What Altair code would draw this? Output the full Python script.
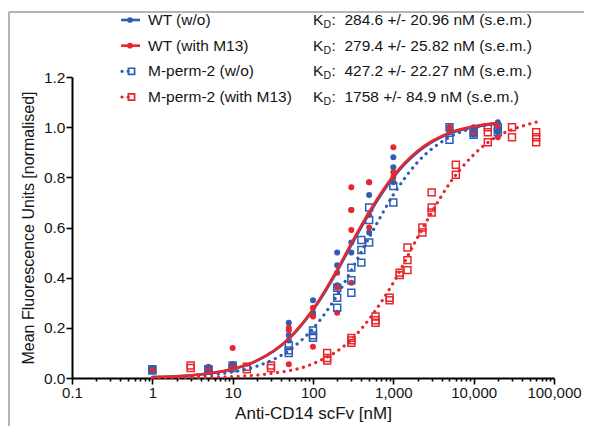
import altair as alt
import pandas as pd

# ---------------- data ----------------
series_names = ["WT (w/o)", "WT (with M13)", "M-perm-2 (w/o)", "M-perm-2 (with M13)"]
kd_texts = [":\u00a0\u00a0284.6 +/- 20.96 nM (s.e.m.)", ":\u00a0\u00a0279.4 +/- 25.82 nM (s.e.m.)",
            ":\u00a0\u00a0427.2 +/- 22.27 nM (s.e.m.)", ":\u00a0\u00a01758 +/- 84.9 nM (s.e.m.)"]
series_colors = ["#2f5cb4", "#e8262b", "#2f5cb4", "#e8262b"]

wt_conc = [1, 1, 1, 5, 5, 10, 10, 10, 50, 50, 50, 100, 100, 100, 200, 200, 200,
           300, 300, 300, 500, 500, 500, 1000, 1000, 1000, 5000, 5000, 5000,
           10000, 10000, 10000, 20000, 20000, 20000]
wt_val = [0.03, 0.035, 0.04, 0.03, 0.04, 0.04, 0.05, 0.055, 0.22, 0.17, 0.15,
          0.31, 0.25, 0.26, 0.50, 0.45, 0.37, 0.67, 0.54, 0.50, 0.78, 0.73, 0.58,
          0.88, 0.84, 0.78, 1.00, 0.99, 0.98, 1.00, 0.98, 0.97, 1.02, 1.00, 0.98]

m13_conc = [1, 1, 5, 5, 10, 10, 10, 50, 50, 50, 100, 100, 100, 200, 200, 200,
            300, 300, 300, 300, 500, 500, 500, 1000, 1000, 1000, 5000, 5000,
            10000, 10000, 20000, 20000]
m13_val = [0.03, 0.035, 0.045, 0.04, 0.12, 0.05, 0.045, 0.20, 0.19, 0.055,
           0.28, 0.245, 0.125, 0.42, 0.36, 0.26, 0.76, 0.67, 0.59, 0.38,
           0.78, 0.65, 0.60, 0.92, 0.82, 0.80, 1.00, 0.99, 0.99, 0.98, 1.00, 0.96]

mp_conc = [1, 1, 5, 5, 10, 10, 50, 50, 50, 100, 100, 100, 200, 200, 200,
           300, 300, 300, 400, 400, 400, 500, 500, 500, 1000, 1000, 5000, 5000,
           10000, 10000, 20000, 20000]
mp_val = [0.03, 0.035, 0.03, 0.035, 0.04, 0.05, 0.13, 0.11, 0.10, 0.19, 0.17, 0.16,
          0.36, 0.32, 0.28, 0.44, 0.39, 0.34, 0.55, 0.51, 0.46, 0.68, 0.63, 0.54,
          0.765, 0.70, 0.95, 1.00, 0.97, 0.98, 1.00, 0.98]

mpm_conc = [3, 3, 15, 15, 30, 30, 150, 150, 150, 300, 300, 300, 600, 600, 600,
            900, 900, 1200, 1200, 1500, 1500, 1500, 2300, 2300, 3000, 3000, 3000,
            6000, 6000, 15000, 15000, 15000, 30000, 30000, 60000, 60000, 60000]
mpm_val = [0.04, 0.05, 0.045, 0.035, 0.05, 0.04, 0.10, 0.08, 0.07, 0.16, 0.14, 0.15,
           0.245, 0.23, 0.22, 0.31, 0.32, 0.41, 0.42, 0.52, 0.47, 0.43, 0.60, 0.58,
           0.74, 0.68, 0.66, 0.85, 0.81, 1.00, 0.98, 0.94, 1.00, 0.96, 0.98, 0.96, 0.94]

# fitted curves
curve_x = [1, 2, 5, 10, 20, 50, 100, 200, 300, 500, 1000, 2000, 5000, 10000, 20000]
wt_curve = [0.004, 0.007, 0.018, 0.035, 0.068, 0.155, 0.27, 0.425, 0.53, 0.655,
            0.80, 0.90, 0.975, 1.0, 1.015]
m13_curve = [0.004, 0.007, 0.018, 0.036, 0.070, 0.158, 0.274, 0.432, 0.537, 0.662,
             0.806, 0.905, 0.978, 1.003, 1.017]
mp_curve = [0.002, 0.005, 0.012, 0.024, 0.047, 0.11, 0.197, 0.33, 0.43, 0.56,
            0.73, 0.86, 0.96, 0.997, 1.018]
mpm_curve_x = [1, 3, 10, 30, 100, 300, 1000, 2000, 3000, 5000, 10000, 20000, 30000, 60000]
mpm_curve = [0.001, 0.002, 0.006, 0.018, 0.057, 0.153, 0.38, 0.56, 0.66, 0.775,
             0.89, 0.965, 0.99, 1.02]

x_tick_values = [round(m * 10.0 ** e, 6) for e in range(-1, 5) for m in range(1, 10)] + [100000]
y_tick_values = [0.0, 0.2, 0.4, 0.6, 0.8, 1.0, 1.2]

# ---------------- tables ----------------
def pts(name, xs, ys):
    return pd.DataFrame({"series": name, "conc": xs, "value": ys})

points_df = pd.concat([
    pts(series_names[0], wt_conc, wt_val),
    pts(series_names[1], m13_conc, m13_val),
    pts(series_names[2], mp_conc, mp_val),
    pts(series_names[3], mpm_conc, mpm_val),
], ignore_index=True)

curves_df = pd.concat([
    pts(series_names[0], curve_x, wt_curve),
    pts(series_names[1], curve_x, m13_curve),
    pts(series_names[2], curve_x, mp_curve),
    pts(series_names[3], mpm_curve_x, mpm_curve),
], ignore_index=True)

legend_df = pd.DataFrame({
    "row": [0, 1, 2, 3],
    "label": series_names,
    "kd": kd_texts,
    "color": series_colors,
    "dotted": [False, False, True, True],
})

FONT = "Liberation Sans"
TXT = "#151515"
color_scale = alt.Scale(domain=series_names, range=series_colors)

decade = "abs(log(datum.value)/LN10 - round(log(datum.value)/LN10)) < 0.001"

x_enc = alt.X("conc:Q",
              scale=alt.Scale(type="log", domain=[0.1, 100000]),
              axis=alt.Axis(values=x_tick_values,
                            labelExpr=f"{decade} ? format(datum.value, ',') : ''",
                            tickSize={"condition": {"test": decade, "value": 6}, "value": 3},
                            tickWidth=1.6, tickColor="black",
                            domainWidth=2, domainColor="black",
                            labelFontSize=15, labelFont=FONT, labelColor=TXT,
                            labelPadding=1, labelFlush=False, labelOverlap=False,
                            grid=False,
                            title="Anti-CD14 scFv [nM]", titleFont=FONT,
                            titleFontSize=17, titleFontWeight="normal",
                            titleColor=TXT, titlePadding=5))
y_enc = alt.Y("value:Q",
              scale=alt.Scale(domain=[0, 1.2], nice=False),
              axis=alt.Axis(values=y_tick_values, format=".1f",
                            tickSize=6, tickWidth=1.6, tickColor="black",
                            domainWidth=2, domainColor="black",
                            labelFontSize=15.5, labelFont=FONT, labelColor=TXT,
                            labelPadding=1, grid=False,
                            title="Mean Fluorescence Units [normalised]",
                            titleFont=FONT, titleFontSize=16,
                            titleFontWeight="normal", titleColor=TXT,
                            titlePadding=7))
c_enc = alt.Color("series:N", scale=color_scale, legend=None)

wt_filter = alt.FieldOneOfPredicate(field="series", oneOf=series_names[:2])
mp_filter = alt.FieldOneOfPredicate(field="series", oneOf=series_names[2:])

circles = alt.Chart(points_df).transform_filter(wt_filter).mark_circle(
    size=36, opacity=1).encode(x=x_enc, y=y_enc, color=c_enc)
squares = alt.Chart(points_df).transform_filter(mp_filter).mark_point(
    shape="square", filled=False, size=48, strokeWidth=1.5, opacity=1).encode(
    x=x_enc, y=y_enc, color=c_enc)

solid_lines = alt.Chart(curves_df).transform_filter(wt_filter).mark_line(
    interpolate="monotone", strokeWidth=2.6).encode(x=x_enc, y=y_enc, color=c_enc)
dotted_lines = alt.Chart(curves_df).transform_filter(mp_filter).mark_line(
    interpolate="monotone", strokeWidth=3.2, strokeDash=[0.1, 6.5],
    strokeCap="round").encode(x=x_enc, y=y_enc, color=c_enc)

main = alt.layer(circles, squares, dotted_lines, solid_lines)

# ---------------- legend ----------------
OX = 2  # legend offset relative to plot origin
ly = alt.Y("row:Q", scale=alt.Scale(domain=[0, 3], range=[-57, 20]), axis=None)
lcol = alt.Color("color:N", scale=None)
leg = alt.Chart(legend_df)
LFS = 15.5

leg_solid = leg.transform_filter("!datum.dotted").mark_rule(strokeWidth=2.6).encode(
    x=alt.value(47 + OX), x2=alt.value(66 + OX), y=ly, color=lcol)
leg_dot = leg.transform_filter("datum.dotted").mark_rule(
    strokeWidth=3.2, strokeDash=[0.1, 6], strokeCap="round").encode(
    x=alt.value(48 + OX), x2=alt.value(58 + OX), y=ly, color=lcol)
leg_circ = leg.transform_filter("!datum.dotted").mark_circle(size=32, opacity=1).encode(
    x=alt.value(56 + OX), y=ly, color=lcol)
leg_sq = leg.transform_filter("datum.dotted").mark_point(
    shape="square", filled=False, size=38, strokeWidth=1.7, opacity=1).encode(
    x=alt.value(57.5 + OX), y=ly, color=lcol)
leg_label = leg.mark_text(align="left", baseline="middle", font=FONT, fontSize=LFS,
                          color=TXT).encode(x=alt.value(74 + OX), y=ly, text="label:N")
leg_k = leg.mark_text(align="left", baseline="middle", font=FONT, fontSize=LFS,
                      color=TXT).encode(x=alt.value(239 + OX), y=ly, text=alt.value("K"))
leg_d = leg.mark_text(align="left", baseline="middle", font=FONT, fontSize=10.5,
                      color=TXT, dy=5).encode(x=alt.value(249.5 + OX), y=ly, text=alt.value("D"))
leg_kd = leg.mark_text(align="left", baseline="middle", font=FONT, fontSize=LFS,
                       color=TXT).encode(x=alt.value(257.5 + OX), y=ly, text="kd:N")

legend_layer = alt.layer(leg_solid, leg_dot, leg_circ, leg_sq, leg_label, leg_k, leg_d, leg_kd)

# frame border (figure outline)
frame_left = alt.Chart(legend_df).mark_rule(color="#b4b4b4", strokeWidth=1.5).encode(
    x=alt.value(-63.2), y=alt.value(-65), y2=alt.value(360))
frame_top = alt.Chart(legend_df).mark_rule(color="#b4b4b4", strokeWidth=1.5).encode(
    x=alt.value(-63.2), x2=alt.value(530), y=alt.value(-65))

chart = alt.layer(frame_left, frame_top, main, legend_layer).resolve_scale(
    y="independent"
).properties(
    width=482, height=301, autosize="none",
    padding={"left": 64, "top": 69, "right": 30, "bottom": 48},
    background="white",
).configure_view(stroke=None)

chart.save("out.html", embed_options={"renderer": "svg", "actions": False})
